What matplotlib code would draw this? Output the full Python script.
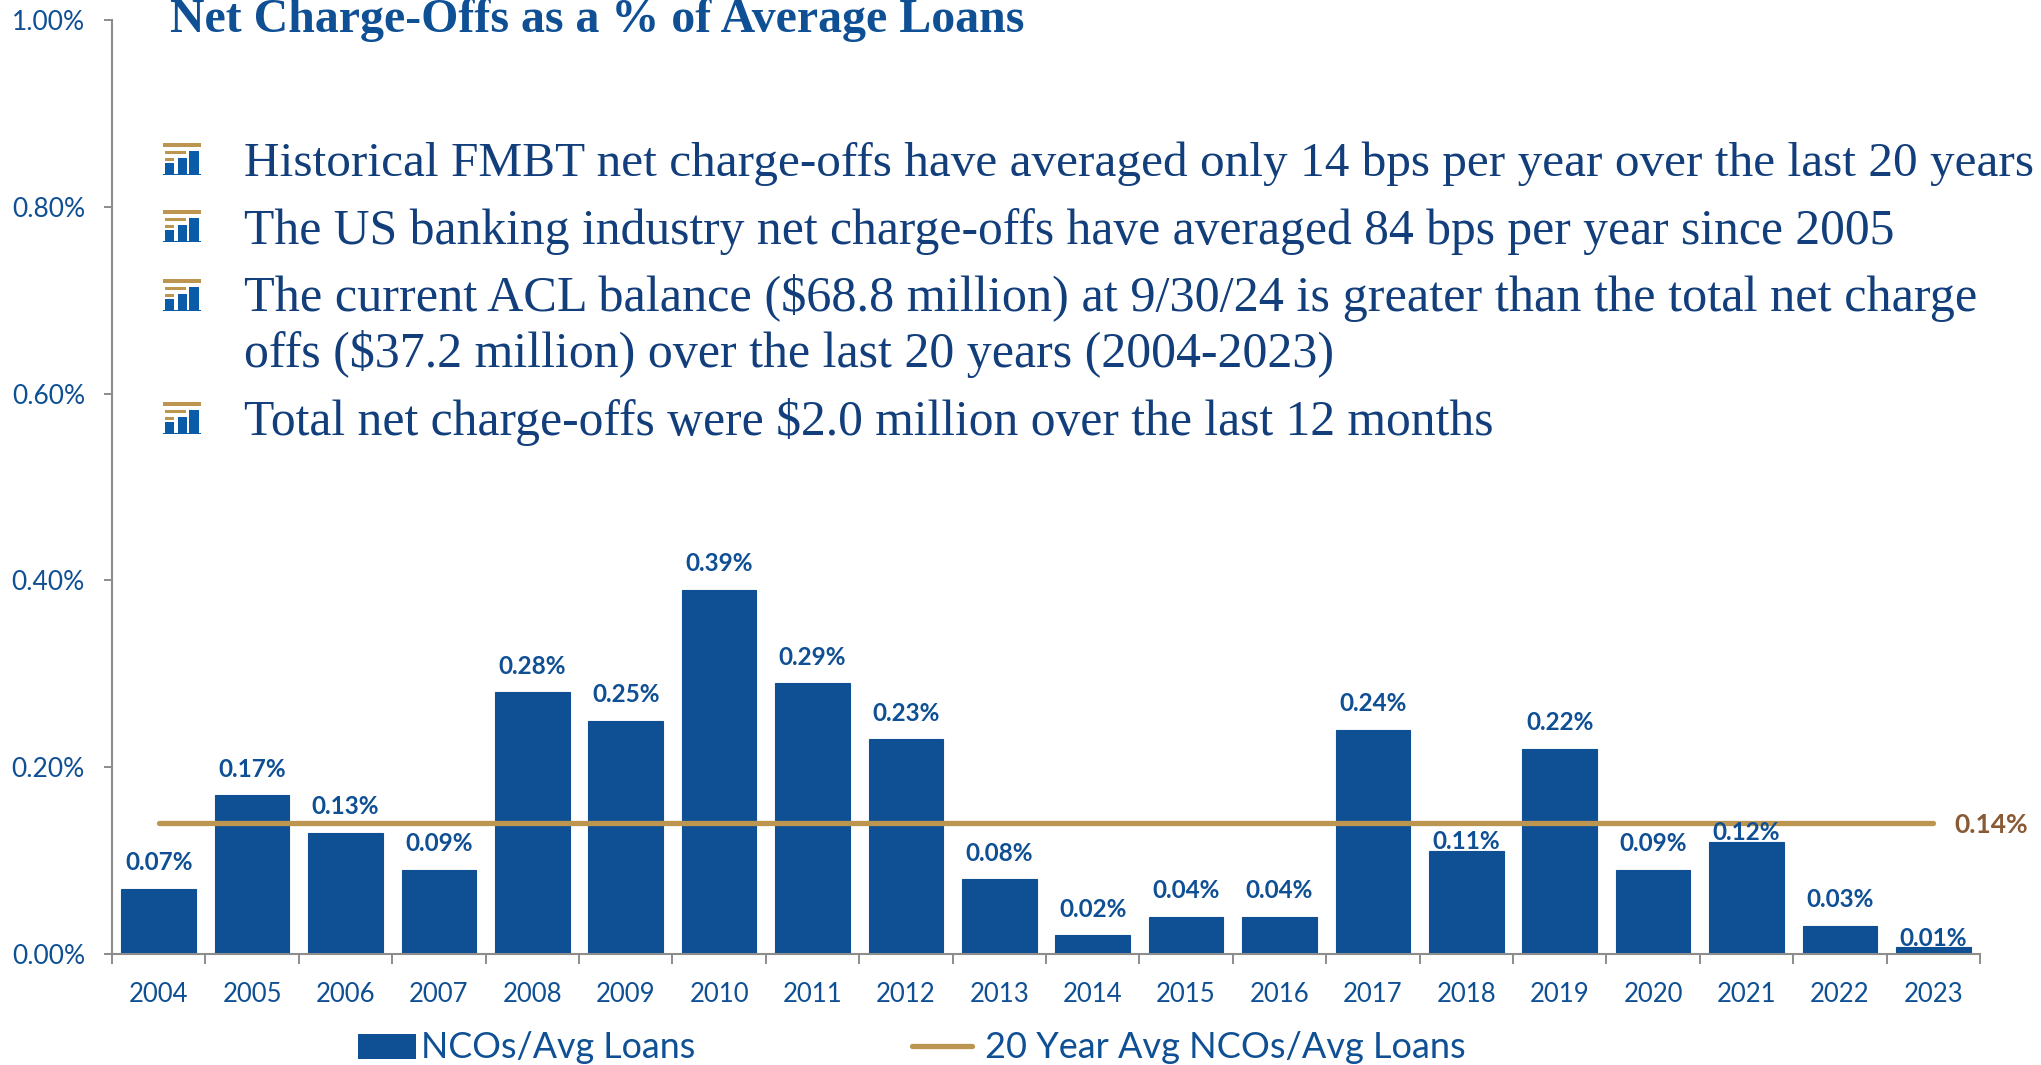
import matplotlib
matplotlib.use('Agg')
import matplotlib.pyplot as plt
from matplotlib.patches import Rectangle

years = ['2004', '2005', '2006', '2007', '2008', '2009', '2010', '2011', '2012', '2013',
         '2014', '2015', '2016', '2017', '2018', '2019', '2020', '2021', '2022', '2023']
nco_pct = [0.07, 0.17, 0.13, 0.09, 0.28, 0.25, 0.39, 0.29, 0.23, 0.08,
           0.02, 0.04, 0.04, 0.24, 0.11, 0.22, 0.09, 0.12, 0.03, 0.007]
avg_pct = 0.14
y_ticks = [0.0, 0.2, 0.4, 0.6, 0.8, 1.0]

title = 'Net Charge-Offs as a % of Average Loans'
bullets = [
    'Historical FMBT net charge-offs have averaged only 14 bps per year over the last 20 years',
    'The US banking industry net charge-offs have averaged 84 bps per year since 2005',
    'The current ACL balance ($68.8 million) at 9/30/24 is greater than the total net charge',
    'offs ($37.2 million) over the last 20 years (2004-2023)',
    'Total net charge-offs were $2.0 million over the last 12 months',
]
bullet_baselines = [176, 244, 311, 367, 435]
bullet_sizes = [35.45, 35.7, 36.2, 35.9, 35.7]  # Cambria runs wider on some lines
icon_tops = [143, 210, 279, 402]
close_labels = ['2018', '2021', '2023']  # these labels sit right on the bar

W, H = 2041, 1065
BLUE = '#0F4F94'
DARK = '#123F7C'
GOLD = '#BC9650'
BROWN = '#8A5A34'
GREY = '#8C8C8C'

plt.rcParams['font.family'] = ['Lato', 'DejaVu Sans']

fig = plt.figure(figsize=(W / 100, H / 100), dpi=100, facecolor='white')
ax = fig.add_axes([112 / W, 1 - 954 / H, (1980 - 112) / W, (954 - 20) / H])

x = range(len(years))
ax.bar(x, nco_pct, width=0.80, color=BLUE, edgecolor=BLUE, linewidth=0.8, zorder=2)
ax.plot([0, len(years) - 1], [avg_pct, avg_pct], color=GOLD, lw=3.8,
        solid_capstyle='round', zorder=3)

ax.set_xlim(-0.5, len(years) - 0.5)
ax.set_ylim(0, 1)
ax.set_yticks(y_ticks)
ax.set_yticklabels([f'{v:.2f}%' for v in y_ticks], color=BLUE, fontsize=19)
ax.set_xticks(x)
ax.set_xticklabels(years, color=BLUE, fontsize=18.5)
ax.tick_params(axis='x', length=0, pad=20)
ax.tick_params(axis='y', length=5.5, width=1.4, color=GREY, pad=14)

# year ticks fall between the bars
ax.set_xticks([i - 0.5 for i in range(len(years) + 1)], minor=True)
ax.tick_params(axis='x', which='minor', length=7, width=1.4, color=GREY)

for s in ['top', 'right']:
    ax.spines[s].set_visible(False)
for s in ['left', 'bottom']:
    ax.spines[s].set_color(GREY)
    ax.spines[s].set_linewidth(1.5)

for i, v in enumerate(nco_pct):
    off = -1.5 if years[i] in close_labels else 10.5
    ax.annotate(f'{v:.2f}%', (i, v), xytext=(0, off), textcoords='offset points',
                ha='center', va='bottom', color=BLUE, fontsize=17.5, fontweight='bold',
                zorder=4)

# overlay in image pixels for the text block, icons and legend
ov = fig.add_axes([0, 0, 1, 1], facecolor='none')
ov.set_xlim(0, W)
ov.set_ylim(H, 0)
ov.axis('off')


def box(x0, y0, x1, y1, c):
    ov.add_patch(Rectangle((x0, y0), x1 - x0, y1 - y0, color=c, lw=0))


def icon(top):
    box(163, top, 201, top + 4, GOLD)
    box(165, top + 8, 186, top + 11, GOLD)
    box(165, top + 15, 174, top + 18, GOLD)
    box(165, top + 20, 174, top + 32, '#0B5CA8')
    box(178, top + 15, 187, top + 32, '#0B5CA8')
    box(189, top + 8, 199, top + 32, '#0B5CA8')
    box(163, top + 31, 201, top + 32, '#0B5CA8')


ov.text(170, 32, title, family='Liberation Serif', fontweight='bold', fontsize=34.5,
        color=BLUE, va='baseline')
for t, b, fs in zip(bullets, bullet_baselines, bullet_sizes):
    ov.text(244, b, t, family='Liberation Serif', fontsize=fs, color=DARK, va='baseline')
for top in icon_tops:
    icon(top)

ov.text(1954, 825, f'{avg_pct:.2f}%', color=BROWN, fontsize=19, fontweight='bold', va='center')

# legend
box(358, 1034, 416, 1059, BLUE)
ov.text(421, 1047, 'NCOs/Avg Loans', color=BLUE, fontsize=25.8, va='center')
ov.plot([912, 972], [1046, 1046], color=GOLD, lw=3.8, solid_capstyle='round')
ov.text(985, 1047, '20 Year Avg NCOs/Avg Loans', color=BLUE, fontsize=26, va='center')

fig.savefig('out.png', dpi=100)
